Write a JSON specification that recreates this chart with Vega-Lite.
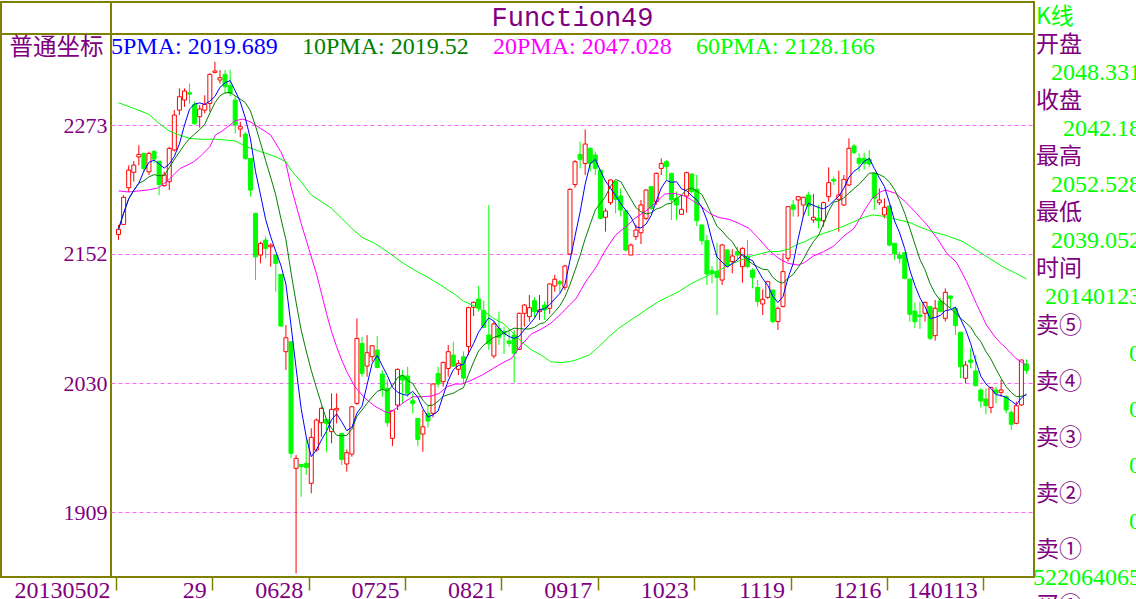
{
  "$schema": "https://vega.github.io/schema/vega-lite/v6.json",
  "background": "white",
  "padding": {"left": 0, "top": 1, "right": 0, "bottom": 0},
  "columns": 3,
  "spacing": 0,
  "bounds": "flush",
  "align": "each",
  "resolve": {"scale": {"color": "independent"}, "legend": {"color": "independent"}},
  "datasets": {
    "k": [
      {"i":0,"o":2170,"h":2179,"l":2165,"c":2175},
      {"i":1,"o":2179.5,"h":2207,"l":2179,"c":2205},
      {"i":2,"o":2214,"h":2235,"l":2210,"c":2230.6},
      {"i":3,"o":2228.5,"h":2239,"l":2219.7,"c":2235.3},
      {"i":4,"o":2243,"h":2254,"l":2235,"c":2245.4},
      {"i":5,"o":2246.3,"h":2246.3,"l":2229,"c":2232},
      {"i":6,"o":2229,"h":2248,"l":2226,"c":2246.3},
      {"i":7,"o":2248,"h":2249.5,"l":2237,"c":2241},
      {"i":8,"o":2239,"h":2239,"l":2207,"c":2217},
      {"i":9,"o":2216,"h":2229,"l":2215,"c":2226},
      {"i":10,"o":2219.7,"h":2252.6,"l":2211.8,"c":2251},
      {"i":11,"o":2249.5,"h":2287,"l":2248,"c":2282.4},
      {"i":12,"o":2287,"h":2307.5,"l":2282.4,"c":2299.6},
      {"i":13,"o":2296.5,"h":2307.5,"l":2290,"c":2305},
      {"i":14,"o":2303.4,"h":2312,"l":2293,"c":2302},
      {"i":15,"o":2292.4,"h":2295,"l":2273,"c":2274.5},
      {"i":16,"o":2280.8,"h":2291.8,"l":2270.5,"c":2288},
      {"i":17,"o":2287,"h":2301,"l":2284,"c":2292.4},
      {"i":18,"o":2293.3,"h":2321.6,"l":2285.5,"c":2320.6},
      {"i":19,"o":2322.5,"h":2332.5,"l":2321.6,"c":2323.8},
      {"i":20,"o":2315.3,"h":2324.7,"l":2312,"c":2317.5},
      {"i":21,"o":2320.6,"h":2324.7,"l":2302.7,"c":2309},
      {"i":22,"o":2310,"h":2325,"l":2300,"c":2303},
      {"i":23,"o":2296.5,"h":2300,"l":2265,"c":2273},
      {"i":24,"o":2269.2,"h":2276,"l":2261.4,"c":2271.4},
      {"i":25,"o":2264.5,"h":2266.7,"l":2240,"c":2241.6},
      {"i":26,"o":2241.6,"h":2241.6,"l":2205.6,"c":2211.8},
      {"i":27,"o":2189.9,"h":2189.9,"l":2127.2,"c":2149},
      {"i":28,"o":2150.7,"h":2163.2,"l":2142.9,"c":2161.7},
      {"i":29,"o":2164.8,"h":2168,"l":2147.6,"c":2157},
      {"i":30,"o":2158.5,"h":2161.7,"l":2139.7,"c":2160},
      {"i":31,"o":2150.7,"h":2150.7,"l":2116.2,"c":2142.9},
      {"i":32,"o":2132.5,"h":2132.5,"l":2083.3,"c":2083.9},
      {"i":33,"o":2059.8,"h":2084.9,"l":2042.6,"c":2072.9},
      {"i":34,"o":2069.2,"h":2069.2,"l":1959.5,"c":1964.2},
      {"i":35,"o":1950.1,"h":1962.6,"l":1851.3,"c":1959.5},
      {"i":36,"o":1953.8,"h":1954,"l":1923.4,"c":1951.6},
      {"i":37,"o":1954.8,"h":1978.3,"l":1943.8,"c":1951},
      {"i":38,"o":1936,"h":1987.7,"l":1926.6,"c":1979.2},
      {"i":39,"o":1967.3,"h":1997,"l":1965.7,"c":1995.5},
      {"i":40,"o":1993,"h":2008,"l":1979.8,"c":2006.5},
      {"i":41,"o":1996.1,"h":1997,"l":1965.7,"c":1992.4},
      {"i":42,"o":1984.6,"h":2020.6,"l":1973.6,"c":2005.6},
      {"i":43,"o":2004.9,"h":2020.6,"l":1992.4,"c":2006.5},
      {"i":44,"o":1983,"h":1983,"l":1953.2,"c":1958.5},
      {"i":45,"o":1954.2,"h":1967.9,"l":1947,"c":1964.8},
      {"i":46,"o":1963.5,"h":2008.7,"l":1961,"c":2008},
      {"i":47,"o":2011.2,"h":2091.1,"l":2009.6,"c":2072.3},
      {"i":48,"o":2067.6,"h":2073.9,"l":2036.3,"c":2039.4},
      {"i":49,"o":2046.3,"h":2075.4,"l":2036.3,"c":2058.8},
      {"i":50,"o":2055.1,"h":2066,"l":2050.4,"c":2065.4},
      {"i":51,"o":2061.3,"h":2074.5,"l":2044.1,"c":2045},
      {"i":52,"o":2038.8,"h":2042.5,"l":2017.4,"c":2024.3},
      {"i":53,"o":2025.3,"h":2033.7,"l":1989.2,"c":1993},
      {"i":54,"o":1978.3,"h":2004.9,"l":1971,"c":2004.3},
      {"i":55,"o":2009.6,"h":2044.1,"l":2004.9,"c":2043.2},
      {"i":56,"o":2037.2,"h":2042.5,"l":2011.2,"c":2033.1},
      {"i":57,"o":2036.9,"h":2045.7,"l":2017.4,"c":2020.6},
      {"i":58,"o":2013.7,"h":2020.6,"l":2001.8,"c":2011.2},
      {"i":59,"o":1997.1,"h":1997.1,"l":1971,"c":1977.3},
      {"i":60,"o":1982.3,"h":2004.9,"l":1965.7,"c":1989.2},
      {"i":61,"o":2001.8,"h":2009.6,"l":1988.6,"c":1994.6},
      {"i":62,"o":2001.8,"h":2030,"l":1998,"c":2029.4},
      {"i":63,"o":2039.4,"h":2045.7,"l":2026.2,"c":2029.4},
      {"i":64,"o":2031.6,"h":2050.4,"l":2026.9,"c":2049.7},
      {"i":65,"o":2044.1,"h":2066,"l":2036.3,"c":2059.8},
      {"i":66,"o":2056.6,"h":2069.2,"l":2045.7,"c":2046.3},
      {"i":67,"o":2043.2,"h":2051.9,"l":2037.8,"c":2048.8},
      {"i":68,"o":2055,"h":2060,"l":2030,"c":2035},
      {"i":69,"o":2064.6,"h":2102.2,"l":2056.7,"c":2101.2},
      {"i":70,"o":2101.5,"h":2106.9,"l":2093.4,"c":2106.2},
      {"i":71,"o":2109.4,"h":2121.6,"l":2097.5,"c":2100.6},
      {"i":72,"o":2098.4,"h":2107.8,"l":2081.8,"c":2082.7},
      {"i":73,"o":2075.5,"h":2197.8,"l":2061.4,"c":2067.1},
      {"i":74,"o":2055.8,"h":2088.1,"l":2053.6,"c":2085.9},
      {"i":75,"o":2081.8,"h":2097.5,"l":2066.1,"c":2073.3},
      {"i":76,"o":2078.7,"h":2083.4,"l":2057.7,"c":2076.5},
      {"i":77,"o":2069.9,"h":2080.2,"l":2064.6,"c":2067.7},
      {"i":78,"o":2075.5,"h":2080.2,"l":2030.7,"c":2058.3},
      {"i":79,"o":2062,"h":2096.5,"l":2061.4,"c":2095.9},
      {"i":80,"o":2095.9,"h":2104.7,"l":2083.4,"c":2103.7},
      {"i":81,"o":2092.8,"h":2113.1,"l":2088.1,"c":2101.2},
      {"i":82,"o":2107.8,"h":2111,"l":2092.1,"c":2097.5},
      {"i":83,"o":2097.5,"h":2113.1,"l":2089.6,"c":2099},
      {"i":84,"o":2103.7,"h":2106.9,"l":2089.6,"c":2099},
      {"i":85,"o":2100.6,"h":2124.1,"l":2095.3,"c":2123.5},
      {"i":86,"o":2121.6,"h":2132,"l":2116.3,"c":2127.9},
      {"i":87,"o":2125.7,"h":2127.2,"l":2114.7,"c":2123.5},
      {"i":88,"o":2120.4,"h":2141.4,"l":2117.8,"c":2140.4},
      {"i":89,"o":2151.7,"h":2213.5,"l":2150.7,"c":2212.5},
      {"i":90,"o":2217,"h":2240,"l":2214,"c":2238.5},
      {"i":91,"o":2245.4,"h":2257.3,"l":2232.2,"c":2240.7},
      {"i":92,"o":2236.9,"h":2268.9,"l":2226,"c":2255.1},
      {"i":93,"o":2251,"h":2252,"l":2229.1,"c":2236.9},
      {"i":94,"o":2244.8,"h":2247.9,"l":2226,"c":2232.2},
      {"i":95,"o":2230.7,"h":2231.3,"l":2184.3,"c":2185.2},
      {"i":96,"o":2186.2,"h":2194.6,"l":2172.7,"c":2192.1},
      {"i":97,"o":2200,"h":2221.9,"l":2197.8,"c":2221.3},
      {"i":98,"o":2219.7,"h":2220.3,"l":2189.9,"c":2203.1},
      {"i":99,"o":2206.2,"h":2213.4,"l":2186.8,"c":2193.1},
      {"i":100,"o":2192.4,"h":2192.4,"l":2153.9,"c":2155.4},
      {"i":101,"o":2150.7,"h":2161.7,"l":2150.7,"c":2160.1},
      {"i":102,"o":2168,"h":2179,"l":2164.8,"c":2174.2},
      {"i":103,"o":2171.7,"h":2202.5,"l":2161.1,"c":2197.8},
      {"i":104,"o":2185.2,"h":2212.5,"l":2183.7,"c":2211.9},
      {"i":105,"o":2215,"h":2215.6,"l":2193,"c":2194.6},
      {"i":106,"o":2200.9,"h":2228.5,"l":2197.8,"c":2227.5},
      {"i":107,"o":2232.2,"h":2241.6,"l":2226,"c":2236.9},
      {"i":108,"o":2238.5,"h":2240.1,"l":2221.3,"c":2233.8},
      {"i":109,"o":2227.5,"h":2228.1,"l":2183.7,"c":2202.5},
      {"i":110,"o":2204,"h":2210.3,"l":2183.7,"c":2197.8},
      {"i":111,"o":2189,"h":2207.2,"l":2188.4,"c":2193.7},
      {"i":112,"o":2206.2,"h":2229.1,"l":2190.5,"c":2228.2},
      {"i":113,"o":2226.9,"h":2227.6,"l":2208.7,"c":2210.3},
      {"i":114,"o":2212.5,"h":2226,"l":2178,"c":2183},
      {"i":115,"o":2179,"h":2179,"l":2160.2,"c":2164.2},
      {"i":116,"o":2164.2,"h":2169.6,"l":2122.5,"c":2132.9},
      {"i":117,"o":2136,"h":2140.4,"l":2124.1,"c":2133.5},
      {"i":118,"o":2135.1,"h":2162.3,"l":2094.3,"c":2129.7},
      {"i":119,"o":2127.2,"h":2161.1,"l":2122.5,"c":2160.2},
      {"i":120,"o":2155.5,"h":2156,"l":2139.2,"c":2140.4},
      {"i":121,"o":2144.5,"h":2156.1,"l":2133.5,"c":2149.8},
      {"i":122,"o":2153.9,"h":2158.6,"l":2146,"c":2150.7},
      {"i":123,"o":2139.8,"h":2158,"l":2124.7,"c":2157},
      {"i":124,"o":2149.8,"h":2164.9,"l":2138.2,"c":2139.8},
      {"i":125,"o":2136.6,"h":2138.2,"l":2119.4,"c":2129.7},
      {"i":126,"o":2120.3,"h":2127.2,"l":2102.2,"c":2106.9},
      {"i":127,"o":2104.7,"h":2118.5,"l":2094.3,"c":2109.1},
      {"i":128,"o":2110.9,"h":2126.6,"l":2109.4,"c":2125.7},
      {"i":129,"o":2117.8,"h":2118,"l":2086.5,"c":2088.1},
      {"i":130,"o":2088.1,"h":2102.2,"l":2080.2,"c":2100.6},
      {"i":131,"o":2102.2,"h":2152.3,"l":2101.5,"c":2135.1},
      {"i":132,"o":2147.6,"h":2196.8,"l":2144.5,"c":2196.2},
      {"i":133,"o":2197.8,"h":2202.5,"l":2186.8,"c":2193.7},
      {"i":134,"o":2202.5,"h":2206.2,"l":2186.8,"c":2205.6},
      {"i":135,"o":2197.8,"h":2205.6,"l":2186.8,"c":2205},
      {"i":136,"o":2207.2,"h":2210.3,"l":2187.4,"c":2196.8},
      {"i":137,"o":2183.7,"h":2208.1,"l":2181.1,"c":2186.2},
      {"i":138,"o":2185.2,"h":2197.8,"l":2175.8,"c":2183},
      {"i":139,"o":2183,"h":2200.9,"l":2177.4,"c":2200},
      {"i":140,"o":2205.6,"h":2233.2,"l":2200.9,"c":2218.8},
      {"i":141,"o":2221.9,"h":2224.4,"l":2216.6,"c":2220.3},
      {"i":142,"o":2203.1,"h":2230.1,"l":2172.7,"c":2207.2},
      {"i":143,"o":2197.8,"h":2226,"l":2196.8,"c":2221.9},
      {"i":144,"o":2216.6,"h":2260.5,"l":2215.6,"c":2251.1},
      {"i":145,"o":2253.3,"h":2255.1,"l":2245.7,"c":2247},
      {"i":146,"o":2241.7,"h":2246.4,"l":2229.1,"c":2236.9},
      {"i":147,"o":2241.7,"h":2247,"l":2231.3,"c":2236.9},
      {"i":148,"o":2240.7,"h":2249.5,"l":2233.2,"c":2236.3},
      {"i":149,"o":2227.5,"h":2228.2,"l":2193.1,"c":2204},
      {"i":150,"o":2200,"h":2213.4,"l":2197.8,"c":2202.5},
      {"i":151,"o":2188.4,"h":2204,"l":2185.2,"c":2195.6},
      {"i":152,"o":2196.8,"h":2197.8,"l":2158.6,"c":2160.1},
      {"i":153,"o":2161.7,"h":2162,"l":2146,"c":2151.7},
      {"i":154,"o":2150.7,"h":2153.9,"l":2142.9,"c":2147.6},
      {"i":155,"o":2152.9,"h":2153.5,"l":2127.8,"c":2128.8},
      {"i":156,"o":2128,"h":2129,"l":2088,"c":2095},
      {"i":157,"o":2098,"h":2106,"l":2082,"c":2088},
      {"i":158,"o":2094.3,"h":2106.9,"l":2081.2,"c":2092.8},
      {"i":159,"o":2095.9,"h":2106.9,"l":2088.1,"c":2106.2},
      {"i":160,"o":2102.2,"h":2103,"l":2070.8,"c":2072.4},
      {"i":161,"o":2074.9,"h":2108.4,"l":2070.2,"c":2100.6},
      {"i":162,"o":2107.5,"h":2110.6,"l":2096.8,"c":2097.5},
      {"i":163,"o":2091.2,"h":2119.4,"l":2088.1,"c":2115.6},
      {"i":164,"o":2112.2,"h":2112.5,"l":2100.6,"c":2110},
      {"i":165,"o":2100.6,"h":2102.2,"l":2075.5,"c":2084.3},
      {"i":166,"o":2078,"h":2078.6,"l":2034.8,"c":2045.7},
      {"i":167,"o":2034.8,"h":2051.1,"l":2030,"c":2047.3},
      {"i":168,"o":2052,"h":2063,"l":2044.2,"c":2049.8},
      {"i":169,"o":2041.7,"h":2056.7,"l":2027,"c":2027.9},
      {"i":170,"o":2023.8,"h":2025.4,"l":2007.2,"c":2013.4},
      {"i":171,"o":2015.3,"h":2025.4,"l":2000.9,"c":2009},
      {"i":172,"o":2007.2,"h":2026.9,"l":2001.9,"c":2026},
      {"i":173,"o":2023.8,"h":2026.9,"l":2011.2,"c":2020.7},
      {"i":174,"o":2021.6,"h":2033.2,"l":2017.5,"c":2023.8},
      {"i":175,"o":2017.5,"h":2019,"l":2001.9,"c":2005},
      {"i":176,"o":2002.8,"h":2005,"l":1986.2,"c":1991.5},
      {"i":177,"o":1992.4,"h":2012.8,"l":1991.5,"c":2009},
      {"i":178,"o":2009.7,"h":2052,"l":2009,"c":2052},
      {"i":179,"o":2048.331,"h":2052.528,"l":2039.052,"c":2042.18}
    ],
    "ma": [
      {"i":0,"v":2211,"s":"20PMA"},{"i":2,"v":2210,"s":"20PMA"},{"i":4,"v":2211,"s":"20PMA"},
      {"i":6,"v":2212,"s":"20PMA"},{"i":7.9,"v":2214,"s":"20PMA"},{"i":9.8,"v":2221,"s":"20PMA"},
      {"i":12.1,"v":2232,"s":"20PMA"},{"i":14.7,"v":2238,"s":"20PMA"},{"i":16,"v":2243,"s":"20PMA"},
      {"i":18,"v":2252.6,"s":"20PMA"},{"i":19.1,"v":2263.6,"s":"20PMA"},{"i":20.4,"v":2267.3,"s":"20PMA"},
      {"i":21.8,"v":2272.3,"s":"20PMA"},{"i":23,"v":2277,"s":"20PMA"},{"i":24.5,"v":2278.6,"s":"20PMA"},
      {"i":26,"v":2276,"s":"20PMA"},{"i":28,"v":2269.8,"s":"20PMA"},{"i":30,"v":2263.6,"s":"20PMA"},
      {"i":32,"v":2247.9,"s":"20PMA"},{"i":33,"v":2237,"s":"20PMA"},{"i":34,"v":2215,"s":"20PMA"},
      {"i":35,"v":2197.7,"s":"20PMA"},{"i":36,"v":2180.5,"s":"20PMA"},{"i":37,"v":2164.8,"s":"20PMA"},
      {"i":38,"v":2149,"s":"20PMA"},{"i":39,"v":2133.5,"s":"20PMA"},{"i":40,"v":2114.7,"s":"20PMA"},
      {"i":41,"v":2095.8,"s":"20PMA"},{"i":42,"v":2078.6,"s":"20PMA"},{"i":43,"v":2064.5,"s":"20PMA"},
      {"i":44,"v":2052,"s":"20PMA"},{"i":45,"v":2041,"s":"20PMA"},{"i":46.6,"v":2026.9,"s":"20PMA"},
      {"i":48.6,"v":2015.9,"s":"20PMA"},{"i":50.5,"v":2008.7,"s":"20PMA"},{"i":52.5,"v":2003.3,"s":"20PMA"},
      {"i":53.4,"v":2002.4,"s":"20PMA"},{"i":54.7,"v":2006.5,"s":"20PMA"},{"i":56.4,"v":2012.7,"s":"20PMA"},
      {"i":58,"v":2017.4,"s":"20PMA"},{"i":59.6,"v":2017.4,"s":"20PMA"},{"i":61.6,"v":2018,"s":"20PMA"},
      {"i":63.2,"v":2020.6,"s":"20PMA"},{"i":64.8,"v":2026.9,"s":"20PMA"},{"i":66.4,"v":2029.4,"s":"20PMA"},
      {"i":67.7,"v":2029.4,"s":"20PMA"},{"i":69.7,"v":2033.2,"s":"20PMA"},{"i":71.7,"v":2037.9,"s":"20PMA"},
      {"i":73.9,"v":2044.2,"s":"20PMA"},{"i":75.8,"v":2049.5,"s":"20PMA"},{"i":77.5,"v":2053.6,"s":"20PMA"},
      {"i":79.4,"v":2066.1,"s":"20PMA"},{"i":81.4,"v":2076.5,"s":"20PMA"},{"i":83.3,"v":2080.9,"s":"20PMA"},
      {"i":85.2,"v":2086.5,"s":"20PMA"},{"i":87,"v":2094.3,"s":"20PMA"},{"i":88.9,"v":2103.7,"s":"20PMA"},
      {"i":90.2,"v":2109.7,"s":"20PMA"},{"i":92.1,"v":2125.7,"s":"20PMA"},{"i":94,"v":2138.2,"s":"20PMA"},
      {"i":96,"v":2155.4,"s":"20PMA"},{"i":98,"v":2169.5,"s":"20PMA"},{"i":100,"v":2177.4,"s":"20PMA"},
      {"i":101.8,"v":2185.2,"s":"20PMA"},{"i":103.8,"v":2191.5,"s":"20PMA"},{"i":105.7,"v":2199.3,"s":"20PMA"},
      {"i":107.7,"v":2208.1,"s":"20PMA"},{"i":109.7,"v":2208.7,"s":"20PMA"},{"i":111.6,"v":2206.2,"s":"20PMA"},
      {"i":112.9,"v":2202.8,"s":"20PMA"},{"i":114.5,"v":2197.8,"s":"20PMA"},{"i":116.5,"v":2189.9,"s":"20PMA"},
      {"i":118.4,"v":2185.9,"s":"20PMA"},{"i":120.4,"v":2184.3,"s":"20PMA"},{"i":122.3,"v":2180.5,"s":"20PMA"},
      {"i":124.3,"v":2175.8,"s":"20PMA"},{"i":126.2,"v":2166.4,"s":"20PMA"},{"i":128.2,"v":2155.5,"s":"20PMA"},
      {"i":130.1,"v":2147.6,"s":"20PMA"},{"i":132,"v":2142.9,"s":"20PMA"},{"i":134,"v":2141.3,"s":"20PMA"},
      {"i":135.2,"v":2143.5,"s":"20PMA"},{"i":137,"v":2149.8,"s":"20PMA"},{"i":139,"v":2153.9,"s":"20PMA"},
      {"i":141,"v":2159.2,"s":"20PMA"},{"i":143,"v":2168.6,"s":"20PMA"},{"i":145,"v":2175.8,"s":"20PMA"},
      {"i":146,"v":2183.7,"s":"20PMA"},{"i":147.3,"v":2194.6,"s":"20PMA"},{"i":148.6,"v":2204,"s":"20PMA"},
      {"i":150.3,"v":2210.3,"s":"20PMA"},{"i":151.2,"v":2211.9,"s":"20PMA"},{"i":153.2,"v":2208.7,"s":"20PMA"},
      {"i":155.1,"v":2200.9,"s":"20PMA"},{"i":157.3,"v":2190,"s":"20PMA"},{"i":159.4,"v":2179,"s":"20PMA"},
      {"i":161.3,"v":2167,"s":"20PMA"},{"i":163.3,"v":2152.3,"s":"20PMA"},{"i":165.2,"v":2143.9,"s":"20PMA"},
      {"i":167.2,"v":2125.7,"s":"20PMA"},{"i":169.1,"v":2105.3,"s":"20PMA"},{"i":171.1,"v":2084.9,"s":"20PMA"},
      {"i":173,"v":2072.4,"s":"20PMA"},{"i":175,"v":2063,"s":"20PMA"},{"i":176.9,"v":2053.6,"s":"20PMA"},
      {"i":179,"v":2047,"s":"20PMA"},
      {"i":0,"v":2294,"s":"60PMA"},{"i":3,"v":2288.6,"s":"60PMA"},{"i":6,"v":2283,"s":"60PMA"},
      {"i":8,"v":2274.5,"s":"60PMA"},{"i":10,"v":2267.3,"s":"60PMA"},{"i":12,"v":2263.6,"s":"60PMA"},
      {"i":14,"v":2260.4,"s":"60PMA"},{"i":16.5,"v":2259.5,"s":"60PMA"},{"i":19,"v":2259.8,"s":"60PMA"},
      {"i":21,"v":2258.9,"s":"60PMA"},{"i":23,"v":2258,"s":"60PMA"},{"i":25,"v":2253,"s":"60PMA"},
      {"i":28,"v":2247.9,"s":"60PMA"},{"i":31,"v":2243.2,"s":"60PMA"},{"i":33,"v":2238.5,"s":"60PMA"},
      {"i":34,"v":2230.7,"s":"60PMA"},{"i":36,"v":2219.7,"s":"60PMA"},{"i":38,"v":2207.1,"s":"60PMA"},
      {"i":40,"v":2200.9,"s":"60PMA"},{"i":42,"v":2194.6,"s":"60PMA"},{"i":44,"v":2185.2,"s":"60PMA"},
      {"i":46,"v":2175.8,"s":"60PMA"},{"i":48,"v":2167.3,"s":"60PMA"},{"i":50.5,"v":2161.7,"s":"60PMA"},
      {"i":53,"v":2153.8,"s":"60PMA"},{"i":55.7,"v":2144.4,"s":"60PMA"},{"i":58.3,"v":2136.6,"s":"60PMA"},
      {"i":61,"v":2129.7,"s":"60PMA"},{"i":63.5,"v":2122.5,"s":"60PMA"},{"i":66.2,"v":2114,"s":"60PMA"},
      {"i":68,"v":2107.4,"s":"60PMA"},{"i":69.7,"v":2103.7,"s":"60PMA"},{"i":71.7,"v":2099,"s":"60PMA"},
      {"i":73.9,"v":2091.2,"s":"60PMA"},{"i":75.8,"v":2086.5,"s":"60PMA"},{"i":77.5,"v":2078.7,"s":"60PMA"},
      {"i":79.4,"v":2069.3,"s":"60PMA"},{"i":81.4,"v":2061.4,"s":"60PMA"},{"i":83.3,"v":2056.7,"s":"60PMA"},
      {"i":85.2,"v":2050.4,"s":"60PMA"},{"i":87,"v":2049.5,"s":"60PMA"},{"i":88.9,"v":2050.4,"s":"60PMA"},
      {"i":90.2,"v":2052,"s":"60PMA"},{"i":92.8,"v":2056.7,"s":"60PMA"},{"i":94.7,"v":2064.5,"s":"60PMA"},
      {"i":96.7,"v":2073.9,"s":"60PMA"},{"i":98.6,"v":2081.8,"s":"60PMA"},{"i":100.5,"v":2088,"s":"60PMA"},
      {"i":102.5,"v":2094.3,"s":"60PMA"},{"i":104.4,"v":2100.6,"s":"60PMA"},{"i":106.4,"v":2106.8,"s":"60PMA"},
      {"i":108.4,"v":2111.5,"s":"60PMA"},{"i":110.4,"v":2116.2,"s":"60PMA"},{"i":113,"v":2124.1,"s":"60PMA"},
      {"i":116.5,"v":2132,"s":"60PMA"},{"i":120.4,"v":2141.3,"s":"60PMA"},{"i":124.3,"v":2149.2,"s":"60PMA"},
      {"i":128.2,"v":2153.9,"s":"60PMA"},{"i":130.1,"v":2154,"s":"60PMA"},{"i":132,"v":2156.1,"s":"60PMA"},
      {"i":134,"v":2161.1,"s":"60PMA"},{"i":135.3,"v":2163.3,"s":"60PMA"},{"i":137,"v":2167.4,"s":"60PMA"},
      {"i":139,"v":2171.1,"s":"60PMA"},{"i":141,"v":2174.2,"s":"60PMA"},{"i":143,"v":2178,"s":"60PMA"},
      {"i":145,"v":2182.1,"s":"60PMA"},{"i":147,"v":2186.2,"s":"60PMA"},{"i":148.6,"v":2188.4,"s":"60PMA"},
      {"i":150.5,"v":2187.4,"s":"60PMA"},{"i":152.5,"v":2185.2,"s":"60PMA"},{"i":154.5,"v":2183,"s":"60PMA"},
      {"i":156.4,"v":2180.5,"s":"60PMA"},{"i":157.8,"v":2177.4,"s":"60PMA"},{"i":160,"v":2173.3,"s":"60PMA"},
      {"i":163.3,"v":2168.9,"s":"60PMA"},{"i":166.5,"v":2163.3,"s":"60PMA"},{"i":169.1,"v":2155.5,"s":"60PMA"},
      {"i":171.7,"v":2147.6,"s":"60PMA"},{"i":174.3,"v":2139.8,"s":"60PMA"},{"i":176.9,"v":2133.5,"s":"60PMA"},
      {"i":179,"v":2128.2,"s":"60PMA"}
    ]
  },
  "concat": [
    {
      "width": 110,
      "height": 32,
      "data": {"values": [{"t": ""}]},
      "mark": "text",
      "encoding": {
        "x": {"datum": 0, "type": "quantitative", "scale": {"domain": [-1, 1]}, "axis": null},
        "y": {"datum": 0, "type": "quantitative", "scale": {"domain": [-1, 1]}, "axis": null},
        "text": {"field": "t"}
      }
    },
    {
      "width": 923,
      "height": 32,
      "data": {"values": [{"t": "Function49"}]},
      "mark": {"type": "text", "font": "Liberation Mono", "fontSize": 27, "color": "#800080"},
      "encoding": {
        "x": {"datum": 0, "type": "quantitative", "scale": {"domain": [-1, 1]}, "axis": null},
        "y": {"datum": 0, "type": "quantitative", "scale": {"domain": [-1, 1]}, "axis": null},
        "text": {"field": "t"}
      }
    },
    {
      "width": 110,
      "height": 32,
      "view": {"stroke": null},
      "data": {
        "values": [
          {"row": 0, "col": "name", "t": "K线"},
          {"row": 1, "col": "name", "t": "开盘"},
          {"row": 2, "col": "value", "t": "2048.331"},
          {"row": 3, "col": "name", "t": "收盘"},
          {"row": 4, "col": "value", "t": "2042.18"},
          {"row": 5, "col": "name", "t": "最高"},
          {"row": 6, "col": "value", "t": "2052.528"},
          {"row": 7, "col": "name", "t": "最低"},
          {"row": 8, "col": "value", "t": "2039.052"},
          {"row": 9, "col": "name", "t": "时间"},
          {"row": 10, "col": "value", "t": "20140123"},
          {"row": 11, "col": "name", "t": "卖⑤"},
          {"row": 12, "col": "value", "t": "0"},
          {"row": 13, "col": "name", "t": "卖④"},
          {"row": 14, "col": "value", "t": "0"},
          {"row": 15, "col": "name", "t": "卖③"},
          {"row": 16, "col": "value", "t": "0"},
          {"row": 17, "col": "name", "t": "卖②"},
          {"row": 18, "col": "value", "t": "0"},
          {"row": 19, "col": "name", "t": "卖①"},
          {"row": 20, "col": "value", "t": "522064065"},
          {"row": 21, "col": "name", "t": "买①"}
        ]
      },
      "encoding": {
        "y": {"field": "row", "type": "ordinal", "axis": null,
              "scale": {"type": "point", "domain": [0,1,2,3,4,5,6,7,8,9,10,11,12,13,14,15,16,17,18,19,20,21], "range": [15, 604], "padding": 0}},
        "x": {"field": "col", "type": "nominal", "axis": null,
              "scale": {"type": "point", "domain": ["name", "value"], "range": [2, 107], "padding": 0}},
        "text": {"field": "t"},
        "color": {"condition": {"test": "datum.col == 'name' && datum.row > 0", "value": "#800080"}, "value": "#00ff00"}
      },
      "layer": [
        {"transform": [{"filter": "datum.col == 'name'"}],
         "mark": {"type": "text", "align": "left", "baseline": "middle", "font": "Noto Sans CJK SC", "fontSize": 23}},
        {"transform": [{"filter": "datum.col == 'value'"}],
         "mark": {"type": "text", "align": "right", "baseline": "middle", "font": "Liberation Serif", "fontSize": 24}}
      ]
    },
    {
      "width": 110,
      "height": 543,
      "data": {"values": [{"t": ""}]},
      "mark": "text",
      "encoding": {
        "x": {"datum": 0, "type": "quantitative", "scale": {"domain": [-1, 1]}, "axis": null},
        "y": {"datum": 0, "type": "quantitative", "scale": {"domain": [-1, 1]}, "axis": null},
        "text": {"field": "t"}
      }
    },
    {
      "width": 923,
      "height": 543,
      "encoding": {
        "x": {
          "field": "i", "type": "quantitative",
          "scale": {"domain": [-0.5, 179.5], "nice": false, "zero": false},
          "axis": {
            "values": [-0.5, 18.5, 37.5, 56.5, 75.5, 94.5, 113.5, 132.5, 151.5, 170.5],
            "labelExpr": "['20130502','29','0628','0725','0821','0917','1023','1119','1216','140113'][round((datum.value + 0.5) / 19)]",
            "title": null, "grid": false, "domain": false,
            "ticks": true, "tickColor": "#808000", "tickSize": 13, "tickWidth": 1.5,
            "labelAlign": "right", "labelBaseline": "alphabetic", "labelPadding": 7, "labelOffset": -6,
            "labelFont": "Liberation Serif", "labelFontSize": 24, "labelColor": "#800080",
            "labelOverlap": false, "labelFlush": false, "labelBound": false
          }
        }
      },
      "layer": [
        {
          "data": {"name": "k"},
          "mark": {"type": "rule", "strokeWidth": 1},
          "encoding": {
            "y": {"field": "l", "type": "quantitative",
                  "scale": {"domain": [1847.9, 2358.6], "nice": false, "zero": false},
                  "axis": {"values": [1909, 2030, 2152, 2273], "title": "普通坐标"}},
            "y2": {"field": "h"},
            "color": {"condition": {"test": "datum.c >= datum.o", "value": "#ff0000"}, "value": "#00ff00"}
          }
        },
        {
          "data": {"name": "k"},
          "mark": {"type": "bar", "width": 4, "strokeWidth": 1},
          "encoding": {
            "y": {"field": "o", "type": "quantitative",
                  "scale": {"domain": [1847.9, 2358.6], "nice": false, "zero": false},
                  "axis": {"values": [1909, 2030, 2152, 2273], "title": "普通坐标"}},
            "y2": {"field": "c"},
            "fill": {"condition": {"test": "datum.c >= datum.o", "value": "#ffffff"}, "value": "#00ff00"},
            "stroke": {"condition": {"test": "datum.c >= datum.o", "value": "#ff0000"}, "value": "#00ff00"}
          }
        },
        {
          "data": {"name": "ma"},
          "mark": {"type": "line", "strokeWidth": 1},
          "encoding": {
            "y": {"field": "v", "type": "quantitative",
                  "scale": {"domain": [1847.9, 2358.6], "nice": false, "zero": false},
                  "axis": {"values": [1909, 2030, 2152, 2273], "title": "普通坐标"}},
            "color": {
              "field": "s", "type": "nominal",
              "scale": {"domain": ["5PMA", "10PMA", "20PMA", "60PMA"], "range": ["#0000ff", "#008000", "#ff00ff", "#00ff00"]},
              "legend": {
                "title": null, "orient": "none", "legendX": -24, "legendY": 1,
                "labelExpr": "datum.label == '5PMA' ? '5PMA: 2019.689' : datum.label == '10PMA' ? '10PMA: 2019.52' : datum.label == '20PMA' ? '20PMA: 2047.028' : '60PMA: 2128.166'",
                "encode": {"labels": {"update": {"fill": {"signal": "datum.value == '5PMA' ? '#0000ff' : datum.value == '10PMA' ? '#008000' : datum.value == '20PMA' ? '#ff00ff' : '#00ff00'"}}}}
              }
            }
          }
        },
        {
          "data": {"name": "k"},
          "transform": [{"window": [{"op": "mean", "field": "c", "as": "m10"}], "frame": [-9, 0], "sort": [{"field": "i"}]}],
          "mark": {"type": "line", "strokeWidth": 1},
          "encoding": {
            "y": {"field": "m10", "type": "quantitative",
                  "scale": {"domain": [1847.9, 2358.6], "nice": false, "zero": false},
                  "axis": {"values": [1909, 2030, 2152, 2273], "title": "普通坐标"}},
            "color": {
              "datum": "10PMA", "type": "nominal",
              "scale": {"domain": ["5PMA", "10PMA", "20PMA", "60PMA"], "range": ["#0000ff", "#008000", "#ff00ff", "#00ff00"]},
              "legend": {
                "title": null, "orient": "none", "legendX": -24, "legendY": 1,
                "labelExpr": "datum.label == '5PMA' ? '5PMA: 2019.689' : datum.label == '10PMA' ? '10PMA: 2019.52' : datum.label == '20PMA' ? '20PMA: 2047.028' : '60PMA: 2128.166'",
                "encode": {"labels": {"update": {"fill": {"signal": "datum.value == '5PMA' ? '#0000ff' : datum.value == '10PMA' ? '#008000' : datum.value == '20PMA' ? '#ff00ff' : '#00ff00'"}}}}
              }
            }
          }
        },
        {
          "data": {"name": "k"},
          "transform": [{"window": [{"op": "mean", "field": "c", "as": "m5"}], "frame": [-4, 0], "sort": [{"field": "i"}]}],
          "mark": {"type": "line", "strokeWidth": 1},
          "encoding": {
            "y": {"field": "m5", "type": "quantitative",
                  "scale": {"domain": [1847.9, 2358.6], "nice": false, "zero": false},
                  "axis": {"values": [1909, 2030, 2152, 2273], "title": "普通坐标"}},
            "color": {
              "datum": "5PMA", "type": "nominal",
              "scale": {"domain": ["5PMA", "10PMA", "20PMA", "60PMA"], "range": ["#0000ff", "#008000", "#ff00ff", "#00ff00"]},
              "legend": {
                "title": null, "orient": "none", "legendX": -24, "legendY": 1,
                "labelExpr": "datum.label == '5PMA' ? '5PMA: 2019.689' : datum.label == '10PMA' ? '10PMA: 2019.52' : datum.label == '20PMA' ? '20PMA: 2047.028' : '60PMA: 2128.166'",
                "encode": {"labels": {"update": {"fill": {"signal": "datum.value == '5PMA' ? '#0000ff' : datum.value == '10PMA' ? '#008000' : datum.value == '20PMA' ? '#ff00ff' : '#00ff00'"}}}}
              }
            }
          }
        }
      ]
    }
  ],
  "config": {
    "view": {"stroke": "#808000", "strokeWidth": 2},
    "axisY": {
      "format": "d", "titleAngle": 0, "titleX": -102, "titleY": 13,
      "titleAlign": "left", "titleBaseline": "middle",
      "titleFont": "Noto Sans CJK SC", "titleFontSize": 23.5, "titleFontWeight": "normal", "titleColor": "#800080",
      "grid": true, "gridColor": "#ff66ff", "gridDash": [4, 3], "gridWidth": 1,
      "ticks": false, "domain": false, "labelPadding": 4,
      "labelFont": "Liberation Serif", "labelFontSize": 22, "labelColor": "#800080", "labelBaseline": "middle"
    },
    "legend": {
      "direction": "horizontal", "padding": 0,
      "symbolSize": 0, "symbolStrokeWidth": 0, "symbolOpacity": 0, "labelOffset": 0,
      "columnPadding": 0, "labelFont": "Liberation Serif", "labelFontSize": 24, "labelLimit": 0
    }
  }
}
